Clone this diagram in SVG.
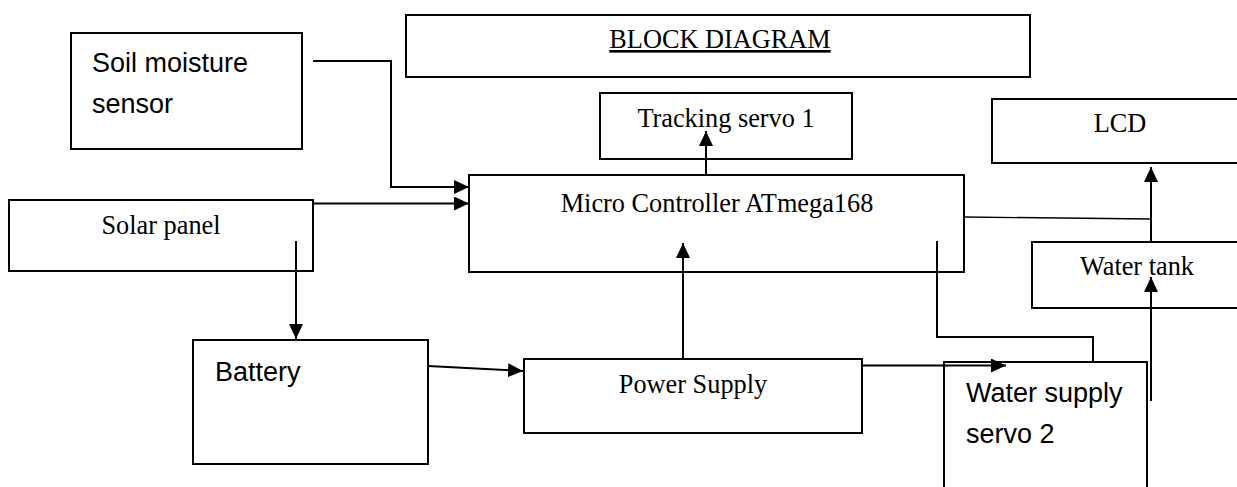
<svg xmlns="http://www.w3.org/2000/svg" width="1237" height="487" viewBox="0 0 1237 487">
<style>
.box{fill:#fff;stroke:#000;stroke-width:2}
.serif{font-family:"Liberation Serif","Times New Roman",serif;font-size:26.3px;fill:#000}
.sans{font-family:"Liberation Sans",Arial,sans-serif;font-size:27px;fill:#000}
.wire{fill:none;stroke:#000;stroke-width:2}
.thin{fill:none;stroke:#000;stroke-width:1.4}
</style>
<defs>
<marker id="arr" markerUnits="userSpaceOnUse" markerWidth="16" markerHeight="14" viewBox="0 0 16 14" refX="15" refY="7" orient="auto">
<path d="M0,0 L15,7 L0,14 z" fill="#000"/>
</marker>
</defs>
<rect width="1237" height="487" fill="#fff"/>
<g id="title"><rect class="box" x="406" y="15" width="624" height="62"/><text class="serif" x="720" y="48" text-anchor="middle" text-decoration="underline">BLOCK DIAGRAM</text></g>
<g id="soil"><rect class="box" x="71" y="33" width="231" height="116"/><text class="sans" x="92" y="72">Soil moisture</text><text class="sans" x="92" y="113">sensor</text></g>
<g id="tracking"><rect class="box" x="600" y="93" width="252" height="66"/><text class="serif" x="726" y="127" text-anchor="middle">Tracking servo 1</text></g>
<g id="lcd"><rect class="box" x="992" y="99" width="260" height="64"/><text class="serif" x="1120" y="132" text-anchor="middle">LCD</text></g>
<g id="micro"><rect class="box" x="469" y="175" width="495" height="97"/><text class="serif" x="717" y="212" text-anchor="middle">Micro Controller ATmega168</text></g>
<g id="solar"><rect class="box" x="9" y="200" width="304" height="71"/><text class="serif" x="161" y="234" text-anchor="middle">Solar panel</text></g>
<g id="watertank"><rect class="box" x="1032" y="242" width="220" height="66"/><text class="serif" x="1137" y="275" text-anchor="middle">Water tank</text></g>
<g id="battery"><rect class="box" x="193" y="340" width="235" height="124"/><text class="sans" x="215" y="381">Battery</text></g>
<g id="power"><rect class="box" x="524" y="359" width="338" height="74"/><text class="serif" x="693" y="393" text-anchor="middle">Power Supply</text></g>
<g id="watersupply"><rect class="box" x="944" y="362" width="203" height="140"/><text class="sans" x="966" y="402">Water supply</text><text class="sans" x="966" y="443">servo 2</text></g>
<g id="connectors">
<path class="wire" d="M313,61 L391,61 L391,187 L469,187" marker-end="url(#arr)"/>
<path class="wire" d="M313,203.5 L469,203.5" marker-end="url(#arr)"/>
<path class="wire" d="M296,241 L296,339" marker-end="url(#arr)"/>
<path class="wire" d="M428,366 L523,371" marker-end="url(#arr)"/>
<path class="wire" d="M683,359 L683,243" marker-end="url(#arr)"/>
<path class="wire" d="M706,175 L706,131" marker-end="url(#arr)"/>
<path class="wire" d="M862,365.5 L1006,365.5" marker-end="url(#arr)"/>
<path class="wire" d="M937,241 L937,337 L1093,337 L1093,362"/>
<path class="thin" d="M964,217 L1151,219"/>
<path class="wire" d="M1151,242 L1151,167" marker-end="url(#arr)"/>
<path class="wire" d="M1151,401 L1151,277" marker-end="url(#arr)"/>
</g>
</svg>
